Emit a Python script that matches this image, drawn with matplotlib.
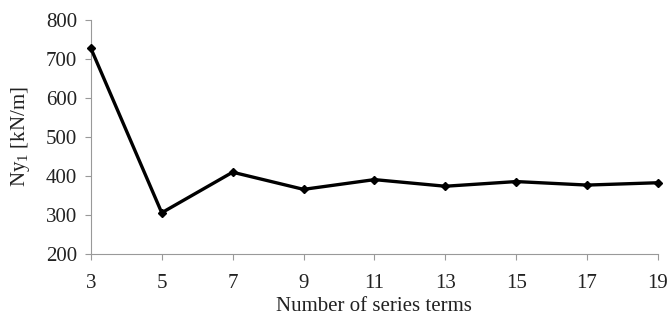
import matplotlib.pyplot as plt

# data
terms = [3, 5, 7, 9, 11, 13, 15, 17, 19]
ny1 = [728, 306, 410, 366, 391, 374, 386, 377, 383]

plt.rcParams['font.family'] = ['Liberation Serif', 'DejaVu Serif']
plt.rcParams['mathtext.fontset'] = 'custom'
plt.rcParams['mathtext.rm'] = 'Liberation Serif'

fig = plt.figure(figsize=(6.68, 3.2), dpi=100)
ax = fig.add_axes([0.136, 0.206, 0.849, 0.731])

ax.plot(terms, ny1, color='black', linewidth=2.4, marker='D', markersize=4.5,
        clip_on=False, zorder=3)

ax.set_xlim(3, 19)
ax.set_ylim(200, 800)
ax.set_xticks(terms)
ax.set_yticks(range(200, 801, 100))

for side in ['top', 'right']:
    ax.spines[side].set_visible(False)
for side in ['left', 'bottom']:
    ax.spines[side].set_color('#999999')
    ax.spines[side].set_linewidth(0.8)
ax.tick_params(axis='both', colors='#999999', labelcolor='#222222',
               labelsize=15, length=4, width=0.8)
ax.tick_params(axis='x', pad=10)
ax.tick_params(axis='y', pad=6)

ax.set_xlabel('Number of series terms', fontsize=15, color='#222222', labelpad=3)
ax.set_ylabel('Ny$_\\mathregular{1}$ [kN/m]', fontsize=15, color='#222222', labelpad=10)

fig.savefig('out.png', dpi=100)
